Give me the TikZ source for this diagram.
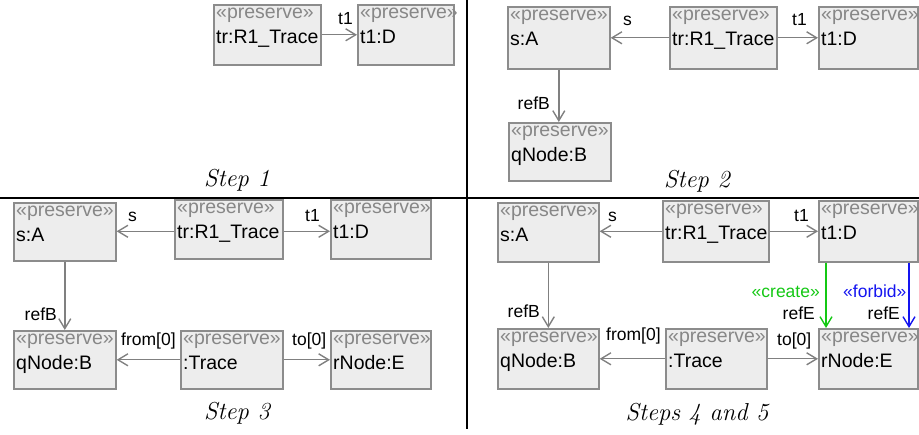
\documentclass[tikz,border=0pt]{standalone}
\usepackage{fontspec}
\newfontfamily\umlfont{Liberation Sans}
\usetikzlibrary{arrows.meta}
\definecolor{boxfill}{RGB}{237,237,237}
\definecolor{boxborder}{RGB}{140,140,140}
\definecolor{stereogray}{RGB}{135,135,135}
\definecolor{linegray}{RGB}{128,128,128}
\definecolor{creategreen}{RGB}{20,200,20}
\definecolor{forbidblue}{RGB}{20,20,240}
\tikzset{
  objbox/.style={draw=boxborder, fill=boxfill, line width=1.6pt, inner sep=0pt, anchor=north west},
  stereo/.style={anchor=base west, inner sep=0pt, text=stereogray, font=\umlfont\fontsize{19.5}{22}\selectfont},
  objname/.style={anchor=base west, inner sep=0pt, font=\umlfont\fontsize{19.5}{22}\selectfont},
  assoc/.style={draw=linegray, line width=1.4pt, -{Straight Barb[length=10pt,width=12pt]}},
  elabel/.style={inner sep=0pt, font=\umlfont\fontsize{17.5}{20}\selectfont},
  stepcaption/.style={inner sep=0pt, anchor=base, font=\fontsize{24.5}{27}\selectfont\itshape},
  sepline/.style={line width=1.2pt, draw=black}
}
\newcommand{\umlobj}[6]{%
  \node[objbox, minimum width=#4pt, minimum height=#5pt] (#1) at (#2,#3) {};
  \node[stereo] (#1s) at ([xshift=3pt,yshift=-15pt]#1.north west) {«preserve»};
  \node[objname] (#1n) at ([xshift=3pt,yshift=-39.5pt]#1.north west) {#6};
}
\begin{document}
\begin{tikzpicture}[x=1pt,y=-1pt]
\useasboundingbox (0,0) rectangle (919,435);
% separators
\draw[sepline] (467,0) -- (467,429);
\draw[sepline] (0,198) -- (919,198);

% ---------------- Step 1
\umlobj{trA}{213}{4}{107}{60}{tr:R1\_Trace}
\umlobj{dA}{357}{4}{96}{60}{t1:D}
\draw[assoc] (trA.east) -- (trA.east -| dA.west);
\node[elabel, anchor=base east] (lA1) at (353,25) {t1};
\node[stepcaption] (capA) at (237,187) {Step 1};

% ---------------- Step 2
\umlobj{aB}{507}{6}{102}{62}{s:A}
\umlobj{trB}{669}{6}{107}{62}{tr:R1\_Trace}
\umlobj{dB}{818}{6}{99}{62}{t1:D}
\umlobj{bB}{508}{122}{102}{58}{qNode:B}
\draw[assoc] (trB.west) -- (trB.west -| aB.east);
\draw[assoc] (trB.east) -- (trB.east -| dB.west);
\draw[assoc] (aB.south) -- (aB.south |- bB.north);
\node[elabel, anchor=base west] (lB1) at (623,26) {s};
\node[elabel, anchor=base east] (lB2) at (807,26) {t1};
\node[elabel, anchor=base east] (lB3) at (550,110) {refB};
\node[stepcaption] (capB) at (697,188) {Step 2};

% ---------------- Step 3
\umlobj{aC}{13}{202}{102}{58}{s:A}
\umlobj{trC}{174}{199}{108}{59}{tr:R1\_Trace}
\umlobj{dC}{330}{199}{100}{59}{t1:D}
\umlobj{bC}{13}{330}{102}{58}{qNode:B}
\umlobj{tC}{180}{330}{102}{58}{:Trace}
\umlobj{eC}{330}{330}{100}{58}{rNode:E}
\draw[assoc] ([yshift=-2pt]trC.west) -- ([yshift=-2pt]trC.west -| aC.east);
\draw[assoc] ([yshift=-2pt]trC.east) -- ([yshift=-2pt]trC.east -| dC.west);
\draw[assoc] (aC.south) -- (aC.south |- bC.north);
\draw[assoc] (tC.west) -- (tC.west -| bC.east);
\draw[assoc] (tC.east) -- (tC.east -| eC.west);
\node[elabel, anchor=base west] (lC1) at (128,222) {s};
\node[elabel, anchor=base east] (lC2) at (320,222) {t1};
\node[elabel, anchor=base east] (lC3) at (57,321) {refB};
\node[elabel, anchor=base west] (lC4) at (121,346) {from[0]};
\node[elabel, anchor=base west] (lC5) at (292,346) {to[0]};
\node[stepcaption] (capC) at (237,420) {Step 3};

% ---------------- Steps 4 and 5
\umlobj{aD}{497}{202}{101}{59}{s:A}
\umlobj{trD}{662}{200}{106}{61}{tr:R1\_Trace}
\umlobj{dD}{818}{200}{99}{61}{t1:D}
\umlobj{bD}{497}{328}{101}{60}{qNode:B}
\umlobj{tD}{665}{328}{101}{60}{:Trace}
\umlobj{eD}{818}{328}{99}{60}{rNode:E}
\draw[assoc] (trD.west) -- (trD.west -| aD.east);
\draw[assoc] (trD.east) -- (trD.east -| dD.west);
\draw[assoc] (aD.south) -- (aD.south |- bD.north);
\draw[assoc] (tD.west) -- (tD.west -| bD.east);
\draw[assoc] (tD.east) -- (tD.east -| eD.west);
\draw[assoc, draw=creategreen] ([xshift=8pt]dD.south west) -- ([xshift=8pt]dD.south west |- eD.north);
\draw[assoc, draw=forbidblue] ([xshift=91pt]dD.south west) -- ([xshift=91pt]dD.south west |- eD.north);
\node[elabel, anchor=base west] (lD1) at (608,222) {s};
\node[elabel, anchor=base east] (lD2) at (809,222) {t1};
\node[elabel, anchor=base east] (lD3) at (540,318) {refB};
\node[elabel, anchor=base west] (lD4) at (606,341) {from[0]};
\node[elabel, anchor=base west] (lD5) at (777,346) {to[0]};
\node[elabel, anchor=base east, text=creategreen] (lD6) at (820,298) {«create»};
\node[elabel, anchor=base east] (lD7) at (815,320) {refE};
\node[elabel, anchor=base west, text=forbidblue] (lD8) at (843,298) {«forbid»};
\node[elabel, anchor=base east] (lD9) at (900,320) {refE};
\node[stepcaption] (capD) at (697,421) {Steps 4 and 5};
\end{tikzpicture}
\end{document}
